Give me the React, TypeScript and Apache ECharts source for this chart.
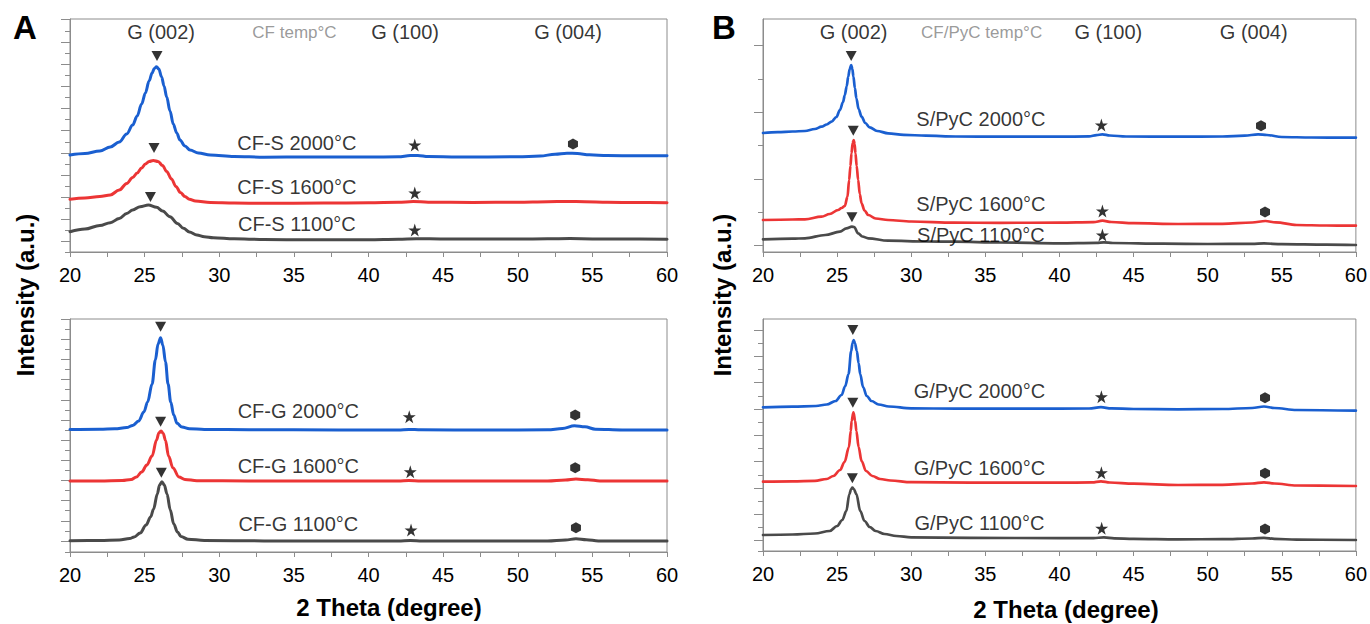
import React, { useEffect, useRef } from "react";
import * as echarts from "echarts";

// ---------- DATA ----------
// Intensity values are arbitrary units (offset stacked curves), 2θ in degrees.
const cfS2000: number[][] = [[20, 97], [21, 98.5], [22, 101], [22.7, 105], [23.3, 110], [23.8, 118], [24.2, 127], [24.5, 136], [24.8, 148], [25.05, 159], [25.3, 171], [25.5, 179], [25.65, 183.5], [25.8, 185.3], [25.95, 183], [26.14, 175], [26.3, 166], [26.48, 155], [26.7, 141], [26.92, 128], [27.15, 119], [27.37, 112], [27.7, 106], [28.04, 102], [28.6, 99], [29.4, 97], [31, 95.5], [33, 94.8], [36, 95], [40, 95], [42, 95.2], [42.8, 96.5], [43.3, 96.6], [44, 95.4], [46, 95], [50, 95.2], [51.5, 96], [52.5, 97.8], [53.3, 98.8], [54, 98.5], [54.8, 97.2], [56, 96.4], [58, 96.2], [60, 96.3]];
const cfS1600: number[][] = [[20, 52.7], [21, 54], [22, 55.5], [22.7, 57], [23.3, 62], [23.8, 68.5], [24.2, 74.5], [24.5, 79], [24.8, 84], [25.05, 88], [25.3, 90.5], [25.58, 91.5], [25.9, 90.5], [26.2, 86.5], [26.48, 80.5], [26.8, 73], [27.1, 65.5], [27.4, 59.5], [27.7, 55.5], [28.0, 52.8], [28.4, 51], [29.4, 49.5], [31, 48.9], [33, 48.7], [37, 48.9], [40, 49.3], [42, 49.7], [43, 50.5], [44, 49.8], [47, 49.6], [50, 49.8], [52, 50.3], [53.3, 50.6], [54.5, 50.3], [56, 49.7], [58, 49.4], [60, 49.3]];
const cfS1100: number[][] = [[20, 20.3], [21, 23], [22, 26.5], [22.7, 29.3], [23.3, 33.5], [23.8, 38.5], [24.2, 42], [24.7, 45.3], [25.25, 47], [25.8, 44.8], [26.2, 41], [26.7, 35.3], [27.2, 28.5], [27.6, 23.7], [28.0, 20], [28.5, 17], [29.0, 15.3], [29.6, 14.3], [31, 13.2], [33, 12.5], [36, 12.2], [40, 12.3], [42, 12.8], [43.2, 13.3], [45, 13], [48, 12.9], [50, 13], [52, 13.2], [53.5, 13.4], [55, 13.1], [57, 12.9], [60, 12.8]];

const cfG2000: number[][] = [[20, 122.5], [22, 122.8], [23, 123.2], [23.8, 124.5], [24.2, 126.5], [24.6, 131], [24.95, 140], [25.2, 150], [25.5, 168], [25.72, 192], [25.9, 208], [26.07, 214.3], [26.22, 207], [26.4, 190], [26.57, 168], [26.75, 150], [26.95, 137], [27.17, 128.7], [27.5, 125], [28, 123.3], [29, 122.6], [32, 122.2], [38, 122.1], [42, 122.1], [42.7, 122.6], [43.5, 122.2], [48, 122], [52, 122.2], [53, 123.5], [53.8, 126.3], [54.5, 125.2], [55.2, 122.8], [57, 122], [60, 122]];
const cfG1600: number[][] = [[20, 71], [22, 71.1], [23.5, 71.5], [24.1, 72.5], [24.45, 75], [24.8, 80], [25.15, 87], [25.5, 96], [25.8, 112], [25.95, 119], [26.1, 121], [26.25, 118.5], [26.4, 111.5], [26.6, 96], [26.9, 84], [27.3, 75], [27.7, 72.5], [28.5, 71.3], [32, 71], [42, 71], [42.7, 71.4], [43.5, 71], [52, 71], [53.2, 72], [53.9, 73], [54.7, 72.2], [55.5, 71.1], [60, 71]];
const cfG1100: number[][] = [[20, 11.3], [22, 11.5], [23.3, 12], [24.0, 13.5], [24.3, 15], [24.7, 19], [25.1, 27], [25.4, 35], [25.6, 43], [25.85, 58], [26.0, 67], [26.16, 70.3], [26.32, 67], [26.5, 58], [26.72, 42], [26.95, 28], [27.2, 20], [27.44, 15.5], [27.9, 12.8], [29, 11.5], [33, 11.1], [42, 11], [42.8, 11.5], [43.6, 11], [52, 11], [53.2, 12], [53.9, 13.3], [54.6, 12.3], [55.4, 11.1], [60, 11]];

const sPyC2000: number[][] = [[20, 119], [21, 119.8], [22, 120.5], [22.83, 121], [23.5, 123], [23.95, 125.3], [24.3, 127.5], [24.63, 130.3], [24.95, 135], [25.19, 142], [25.4, 150], [25.52, 157], [25.65, 166], [25.75, 175.3], [25.85, 183], [25.95, 187], [26.03, 183], [26.1, 175.3], [26.2, 164], [26.3, 153.7], [26.45, 143], [26.65, 135.3], [26.9, 129], [27.2, 124.7], [27.7, 121], [28.44, 118.7], [29.5, 117.2], [31, 116.3], [33, 115.5], [36, 115.3], [40, 115.3], [42, 115.6], [42.5, 116.8], [42.9, 117.7], [43.4, 116.5], [44.5, 115.5], [48, 115.3], [51, 115.5], [52.5, 116.3], [53.4, 117.7], [54, 117], [55, 115], [57, 114.5], [60, 114.3]];
const sPyC1600: number[][] = [[20, 32], [22, 32.5], [22.83, 32.7], [23.95, 35.3], [24.5, 38], [25.07, 42], [25.3, 44], [25.52, 46], [25.7, 55.3], [25.81, 72], [25.9, 86], [25.97, 98.7], [26.05, 109], [26.12, 112], [26.18, 108], [26.24, 98.7], [26.32, 86], [26.42, 72], [26.53, 58], [26.65, 48.7], [26.85, 41.5], [27.1, 37], [27.6, 33.5], [28.44, 32], [30, 30.5], [32.9, 29.3], [36, 29.2], [40, 29.3], [42.3, 29.8], [42.9, 31.3], [43.5, 30], [45, 28.8], [48, 28], [51, 28.2], [53, 29.5], [53.9, 31], [54.6, 29.6], [56, 27], [58, 26.5], [60, 26.3]];
const sPyC1100: number[][] = [[20, 12.7], [22, 13.3], [22.83, 13.7], [24.2, 17], [25.19, 20.3], [25.63, 23.7], [26.0, 25.3], [26.15, 25], [26.42, 18.7], [26.7, 15.5], [27.1, 13.7], [28.44, 11.3], [31, 10.5], [32.9, 10.3], [36, 9.5], [40, 8.7], [42.5, 9.2], [43, 9.7], [43.6, 9], [47, 8.3], [50, 8], [53, 8.2], [53.8, 8.6], [55, 7.8], [58, 7.3], [60, 7]];

const gPyC2000: number[][] = [[20, 143.7], [22, 144.3], [23.57, 145], [24.3, 146.5], [24.9, 150], [25.3, 156], [25.55, 165], [25.77, 177], [25.95, 200], [26.04, 208], [26.12, 211], [26.2, 208], [26.33, 200], [26.45, 188], [26.56, 177], [26.75, 164], [27.0, 155], [27.32, 150], [27.8, 146.5], [28.5, 144.5], [30, 142.7], [33, 142.3], [38, 142.3], [42, 142.5], [42.8, 143.8], [43.5, 142.6], [45, 142], [48, 141.7], [51, 142], [53, 143], [53.8, 144.5], [54.5, 143], [56, 141], [60, 140.3]];
const gPyC1600: number[][] = [[20, 69.3], [22, 69.6], [23.5, 70.2], [24.3, 72], [24.75, 75], [25.2, 81], [25.5, 89], [25.8, 104], [25.92, 120], [25.98, 130], [26.1, 138.7], [26.22, 130], [26.3, 120], [26.45, 104], [26.65, 90], [26.95, 80], [27.38, 75], [27.9, 72], [28.6, 70.5], [30, 68.8], [34, 68.3], [40, 68.3], [42.2, 68.6], [42.8, 69.7], [43.4, 68.5], [45, 67.3], [48, 66], [51, 66.2], [53, 67.5], [53.8, 68.7], [54.5, 67.5], [56, 65.5], [60, 65]];
const gPyC1100: number[][] = [[20, 16], [22, 16.5], [23.5, 17.5], [24.5, 20], [25.0, 25], [25.35, 31], [25.62, 40], [25.83, 57], [25.95, 62], [26.03, 63.3], [26.12, 62], [26.3, 57], [26.56, 40], [26.85, 30], [27.2, 24], [27.6, 20], [28.2, 17], [29, 15], [30, 13.7], [34, 13.2], [40, 12.8], [42.3, 12.9], [43, 13.6], [43.7, 12.7], [45, 12.2], [48, 11.7], [51, 11.8], [53, 12.5], [53.8, 13.2], [54.5, 12.2], [56, 11.3], [60, 11]];

// curve names (labels) per panel, top to bottom
const namesAT = ["CF-S 2000°C", "CF-S 1600°C", "CF-S 1100°C"];
const namesAB = ["CF-G 2000°C", "CF-G 1600°C", "CF-G 1100°C"];
const namesBT = ["S/PyC 2000°C", "S/PyC 1600°C", "S/PyC 1100°C"];
const namesBB = ["G/PyC 2000°C", "G/PyC 1600°C", "G/PyC 1100°C"];
// label anchor points [2θ, intensity]
const labelPtsAT = [[35.2, 109], [35.2, 65], [35.2, 28]];
const labelPtsAB = [[35.3, 141], [35.3, 86.3], [35.3, 28]];
const labelPtsBT = [[34.7, 132.7], [34.7, 48], [34.7, 17]];
const labelPtsBB = [[34.6, 160], [34.6, 82.7], [34.6, 28.3]];

// peak markers [2θ, intensity]
const triAT = [[25.83, 196], [25.63, 104], [25.39, 55]];
const starAT = [[43.1, 107], [43.1, 59], [43.1, 22]];
const hexAT = [[53.7, 108]];
const triAB = [[26.07, 225.3], [26.07, 130.3], [26.12, 79.3]];
const starAB = [[42.73, 135.3], [42.8, 80.3], [42.85, 22]];
const hexAB = [[53.85, 137], [53.85, 84.3], [53.9, 24.3]];
const triBT = [[25.95, 196], [26.09, 121.3], [26.0, 34.7]];
const starBT = [[42.83, 127], [42.9, 41], [42.9, 17]];
const hexBT = [[53.6, 126.3], [53.87, 40]];
const triBB = [[26.06, 221], [26.06, 148.3], [26.03, 72.7]];
const starBB = [[42.83, 154.3], [42.83, 78.3], [42.85, 22.7]];
const hexBB = [[53.87, 153.3], [53.87, 77.7], [53.87, 22]];

// header annotations (top panels)
const headerA = ["G (002)", "CF temp°C", "G (100)", "G (004)"];
const headerAX = [26.1, 35.04, 42.45, 53.37];
const headerB = ["G (002)", "CF/PyC temp°C", "G (100)", "G (004)"];
const headerBX = [26.11, 34.75, 43.3, 53.11];
const headerY = 220;

// y-axis tick positions (intensity units, no labels)
const yMajAT = [10.3, 32.5, 54.7, 76.9, 99.1, 121.3, 143.5, 165.7, 187.9, 210.1, 232.3];
const yMinAT = [0, 21.4, 43.6, 65.8, 88, 110.2, 132.4, 154.6, 176.8, 199, 221.2];
const yMajAB = [11, 31.2, 51.3, 71.5, 91.7, 111.9, 132, 152.2, 172.4, 192.6, 212.7, 232.9];
const yMinAB = [0, 21.1, 41.3, 61.4, 81.6, 101.8, 122, 142.1, 162.3, 182.5, 202.7, 222.8];
const yMajBT = [6.3, 73, 139.7, 206.3];
const yMinBT = [39.7, 106.3, 173];
const yMajBB = [10.3, 36.7, 63, 89.3, 115.7, 142, 168.3, 194.7, 221];
const yMinBB = [0, 23.5, 49.8, 76.2, 102.5, 128.8, 155.2, 181.5, 207.8];

const xMin = 20;
const xMax = 60;
const xStep = 5;

// ---------- STYLE ----------
const FONT = "'Liberation Sans', Arial, Helvetica, sans-serif";
const BLUE = "#1a5fd0";
const RED = "#ec3535";
const GRAY = "#4a4a4a";
const FRAME = "#8c8c8c";
const STAR = "path://M50,0 L61.2,34.5 L97.6,34.5 L68.2,55.9 L79.4,90.5 L50,69.1 L20.6,90.5 L31.8,55.9 L2.4,34.5 L38.8,34.5 Z";
const HEX = "path://M50,0 L95,25 L95,75 L50,100 L5,75 L5,25 Z";

type Panel = {
  grid: { left: number; top: number; width: number; height: number };
  curves: number[][][];
  names: string[];
  labelPts: number[][];
  tri: number[][];
  star: number[][];
  hex: number[][];
  major: number[];
  minor: number[];
  header?: { texts: string[]; xs: number[] };
  lineWidth: number;
};

const panels: Panel[] = [
  { grid: { left: 70, top: 19, width: 597, height: 233 }, curves: [cfS2000, cfS1600, cfS1100], names: namesAT, labelPts: labelPtsAT, tri: triAT, star: starAT, hex: hexAT, major: yMajAT, minor: yMinAT, header: { texts: headerA, xs: headerAX }, lineWidth: 3 },
  { grid: { left: 70, top: 319, width: 597, height: 233 }, curves: [cfG2000, cfG1600, cfG1100], names: namesAB, labelPts: labelPtsAB, tri: triAB, star: starAB, hex: hexAB, major: yMajAB, minor: yMinAB, lineWidth: 3 },
  { grid: { left: 763, top: 19, width: 594, height: 233 }, curves: [sPyC2000, sPyC1600, sPyC1100], names: namesBT, labelPts: labelPtsBT, tri: triBT, star: starBT, hex: hexBT, major: yMajBT, minor: yMinBT, header: { texts: headerB, xs: headerBX }, lineWidth: 2.7 },
  { grid: { left: 763, top: 319, width: 594, height: 232 }, curves: [gPyC2000, gPyC1600, gPyC1100], names: namesBB, labelPts: labelPtsBB, tri: triBB, star: starBB, hex: hexBB, major: yMajBB, minor: yMinBB, lineWidth: 2.7 },
];

function buildOption() {
  const grids: any[] = [];
  const xAxes: any[] = [];
  const yAxes: any[] = [];
  const series: any[] = [];
  const colors = [BLUE, RED, GRAY];

  panels.forEach((p, i) => {
    grids.push({ ...p.grid, show: true, borderColor: FRAME, borderWidth: 1, containLabel: false });
    xAxes.push({
      gridIndex: i, type: "value", min: xMin, max: xMax, interval: xStep,
      axisLine: { show: true, lineStyle: { color: FRAME, width: 1 } },
      axisTick: { show: true, length: 5, lineStyle: { color: FRAME } },
      minorTick: { show: true, splitNumber: 2, length: 5, lineStyle: { color: FRAME } },
      axisLabel: { fontSize: 20, color: "#000", fontFamily: FONT, margin: 13 },
      splitLine: { show: false },
    });
    const ymax = p.grid.height;
    yAxes.push({
      gridIndex: i, type: "value", position: "left", offset: 0, min: 0, max: ymax,
      axisLine: { show: true, lineStyle: { color: FRAME, width: 1 } },
      axisTick: { show: true, length: 9, customValues: p.major, lineStyle: { color: FRAME } },
      axisLabel: { show: false }, splitLine: { show: false },
    });
    yAxes.push({
      gridIndex: i, type: "value", position: "left", offset: 0, min: 0, max: ymax,
      axisLine: { show: false },
      axisTick: { show: true, length: 5, customValues: p.minor, lineStyle: { color: FRAME } },
      axisLabel: { show: false }, splitLine: { show: false },
    });
    const yi = i * 2;
    p.curves.forEach((c, k) => {
      series.push({
        type: "line", xAxisIndex: i, yAxisIndex: yi, data: c, showSymbol: false,
        smooth: 0.35, smoothMonotone: "x",
        lineStyle: { color: colors[k], width: p.lineWidth, join: "round", cap: "round" }, z: 2, silent: true,
      });
    });
    const mk = (data: number[][], symbol: string, size: any, rotate = 0) => ({
      type: "scatter", xAxisIndex: i, yAxisIndex: yi, data, symbol, symbolSize: size, symbolRotate: rotate,
      itemStyle: { color: "#000" }, z: 5, silent: true,
    });
    series.push(mk(p.tri, "triangle", [11, 10], 180));
    series.push(mk(p.star, STAR, 13));
    series.push(mk(p.hex, HEX, [10, 11]));
    // curve labels
    series.push({
      type: "scatter", xAxisIndex: i, yAxisIndex: yi, symbol: "rect", symbolSize: 1,
      itemStyle: { color: "rgba(0,0,0,0)" }, z: 6, silent: true,
      data: p.names.map((n, k) => ({ name: n, value: p.labelPts[k] })),
      label: { show: true, position: "inside", formatter: "{b}", fontSize: 20, color: "#000", fontFamily: FONT },
    });
    if (p.header) {
      const h = p.header;
      series.push({
        type: "scatter", xAxisIndex: i, yAxisIndex: yi, symbol: "rect", symbolSize: 1,
        itemStyle: { color: "rgba(0,0,0,0)" }, z: 6, silent: true,
        data: h.texts.map((t, k) => ({
          name: t, value: [h.xs[k], headerY],
          label: k === 1 ? { fontSize: 17, color: "#7f7f7f" } : { fontSize: 20, color: "#000" },
        })),
        label: { show: true, position: "inside", formatter: "{b}", fontFamily: FONT },
      });
    }
  });

  const graphic: any[] = [
    { type: "text", x: 25, y: 27, style: { text: "A", font: `bold 33px ${FONT}`, fill: "#000", textAlign: "center", textVerticalAlign: "middle" } },
    { type: "text", x: 724, y: 27, style: { text: "B", font: `bold 33px ${FONT}`, fill: "#000", textAlign: "center", textVerticalAlign: "middle" } },
    { type: "text", x: 25, y: 295, rotation: Math.PI / 2, style: { text: "Intensity (a.u.)", font: `bold 24px ${FONT}`, fill: "#000", textAlign: "center", textVerticalAlign: "middle" } },
    { type: "text", x: 722, y: 295, rotation: Math.PI / 2, style: { text: "Intensity (a.u.)", font: `bold 24px ${FONT}`, fill: "#000", textAlign: "center", textVerticalAlign: "middle" } },
    { type: "text", x: 389, y: 607, style: { text: "2 Theta (degree)", font: `bold 24px ${FONT}`, fill: "#000", textAlign: "center", textVerticalAlign: "middle" } },
    { type: "text", x: 1066, y: 609, style: { text: "2 Theta (degree)", font: `bold 24px ${FONT}`, fill: "#000", textAlign: "center", textVerticalAlign: "middle" } },
  ];

  return {
    animation: false,
    backgroundColor: "#ffffff",
    grid: grids,
    xAxis: xAxes,
    yAxis: yAxes,
    series,
    graphic,
  };
}

export default function App() {
  const ref = useRef<HTMLDivElement>(null);
  useEffect(() => {
    if (!ref.current) return;
    const chart = echarts.init(ref.current, undefined, { renderer: "svg" });
    chart.setOption(buildOption() as any);
    return () => chart.dispose();
  }, []);
  return (
    <div
      ref={ref}
      style={{ position: "absolute", left: 0, top: 0, width: 1370, height: 624, background: "#fff" }}
    />
  );
}
